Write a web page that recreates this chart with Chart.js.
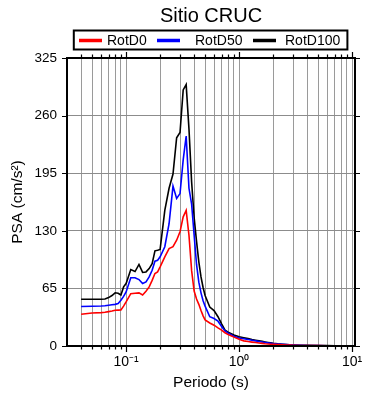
<!DOCTYPE html>
<html>
<head>
<meta charset="utf-8">
<script src="https://cdn.jsdelivr.net/npm/chart.js@4.4.1/dist/chart.umd.min.js"></script>
<style>
 html,body{margin:0;padding:0;background:#fff}
 #wrap{width:390px;height:400px}
</style>
</head>
<body>
<div id="wrap"><canvas id="psa" width="390" height="400"></canvas></div>
<script>
/* ---------------- data ---------------- */
const periods=[0.04,0.05,0.06,0.065,0.07,0.075,0.08,0.085,0.09,0.095,
 0.1,0.11,0.12,0.13,0.14,0.15,0.16,0.17,0.18,0.19,0.2,
 0.22,0.24,0.26,0.28,0.3,0.32,0.34,0.36,0.38,0.4,0.42,0.44,0.46,0.48,0.5,
 0.55,0.6,0.65,0.7,0.75,0.8,0.9,1.0,
 1.1,1.2,1.3,1.4,1.5,1.6,1.7,1.8,1.9,2.0,2.2,2.4,2.6,2.8,3.0,3.5,4.0,5.0,6.0,7.0,8.0,9.0,10.0];
const rotD0=[35.8,37.3,37.7,38,38.8,39.5,40.3,40.5,40.7,45,
 49.7,59,59.5,60,57.6,61.8,66.7,74,81.8,83.6,89.3,
 100.6,110,112,119.4,129,145.8,153,125,85,62,53,47,40,34,29.5,
 26,23.5,20.5,18,15,13,10,7.5,
 5.8,5,4.4,3.9,3.4,3,2.6,2.3,2.0,1.8,1.5,1.3,1.1,0.95,0.8,0.6,0.5,0.38,0.3,0.24,0.2,0.16,0.14];
const rotD50=[44.5,44.8,45.2,45.5,46,46.5,47,48,51.6,56,
 61,77,77,75,70.5,72.3,78,85.5,95.7,96.8,100.6,
 112,138,180.5,166.5,172,210,237,178,160,125,92,72,60,51,45,
 33,31,28,22,17,14.5,11,9,
 8.2,7.3,6.5,5.8,5.1,4.5,4,3.5,3.1,2.7,2.2,1.8,1.5,1.3,1.1,0.8,0.6,0.45,0.35,0.28,0.22,0.18,0.15];
const rotD100=[52.8,52.8,52.8,53,54.6,57,60,59.5,57.6,66.7,
 70.5,86.3,84,92,83,83.6,87.4,93,107.4,108,109,
 153,178,194,235,241,289,295,245,185,145,118,95,78,66,57,
 44,40,33,25,18,15.5,12.5,10.5,
 9.3,8.3,7.3,6.5,5.8,5.2,4.6,4,3.5,3,2.4,2,1.7,1.4,1.2,0.9,0.7,0.5,0.4,0.3,0.25,0.2,0.18];
const seriesNames=["RotD0","RotD50","RotD100"];
const seriesColors=["#ff0000","#0000ff","#000000"];
const yTicks=[0,65,130,195,260,325];
const xTicks=[0.04,0.05,0.06,0.07,0.08,0.09,0.1,0.2,0.3,0.4,0.5,0.6,0.7,0.8,0.9,1,2,3,4,5,6,7,8,9,10];
const xTickLabels={0.1:"10\u207B\u00B9",1:"10\u2070",10:"10\u00B9"};

const FONT="'Liberation Sans', Arial, Helvetica, sans-serif";

/* ---------------- frame, outer ticks, title and boxed legend ---------------- */
const decor={
 id:"decor",
 afterDraw(chart,args,o){
  const ctx=chart.ctx, a=chart.chartArea, xs=chart.scales.x, ys=chart.scales.y;
  ctx.save();
  ctx.strokeStyle="#000"; ctx.lineWidth=1.2;
  ctx.beginPath();
  xTicks.forEach(v=>{
   const px=Math.round(xs.getPixelForValue(v))+.5;
   const len=Math.abs(Math.log10(v)%1)<1e-9?6:3.5;
   ctx.moveTo(px,a.bottom); ctx.lineTo(px,a.bottom+len);
   ctx.moveTo(px,a.top); ctx.lineTo(px,a.top-len);
  });
  yTicks.forEach(v=>{
   const py=Math.round(ys.getPixelForValue(v))+.5;
   ctx.moveTo(a.left,py); ctx.lineTo(a.left-5,py);
   ctx.moveTo(a.right,py); ctx.lineTo(a.right+5,py);
  });
  ctx.stroke();
  ctx.lineWidth=2;
  ctx.strokeRect(a.left,a.top,a.right-a.left,a.bottom-a.top);

  // title
  ctx.fillStyle="#000"; ctx.textAlign="center"; ctx.textBaseline="alphabetic";
  ctx.font=`20px ${FONT}`;
  ctx.fillText(o.title,(a.left+a.right)/2,22);

  // legend
  const b=o.box;
  ctx.lineWidth=2; ctx.strokeRect(b[0],b[1],b[2]-b[0],b[3]-b[1]);
  ctx.font=`14px ${FONT}`; ctx.textAlign="left";
  chart.data.datasets.forEach((d,i)=>{
   ctx.strokeStyle=d.borderColor; ctx.lineWidth=3.5;
   ctx.beginPath(); ctx.moveTo(o.seg[i],40.5); ctx.lineTo(o.seg[i]+23,40.5); ctx.stroke();
   ctx.fillText(d.label,o.txt[i],45);
  });
  ctx.restore();
 }
};

new Chart(document.getElementById("psa"),{
 type:"line",
 data:{datasets:seriesNames.map((n,i)=>({
  label:n,
  data:periods.map((p,k)=>({x:p,y:[rotD0,rotD50,rotD100][i][k]})),
  borderColor:seriesColors[i],borderWidth:1.6,pointRadius:0,tension:0,fill:false
 }))},
 options:{
  responsive:false,animation:false,devicePixelRatio:1,
  layout:{padding:{top:58,right:35,left:0,bottom:0}},
  plugins:{legend:{display:false},title:{display:false},tooltip:{enabled:false},
   decor:{title:"Sitio CRUC",box:[73.8,30.5,347.4,49.5],seg:[79,157,253],txt:[107,195,285]}},
  scales:{
   x:{type:"logarithmic",min:0.03,max:10.6,
    afterBuildTicks:s=>{s.ticks=xTicks.map(v=>({value:v}));},
    afterFit:s=>{s.height=54;},
    grid:{color:"#9a9a9a",lineWidth:1,drawTicks:false},
    border:{display:false},
    ticks:{autoSkip:false,maxRotation:0,padding:8,color:"#000",font:{family:FONT,size:14},
     callback:v=>xTickLabels[v]||""},
    title:{display:true,text:"Periodo (s)",color:"#000",font:{family:FONT,size:15.5},padding:{top:0,bottom:8}}
   },
   y:{type:"linear",min:0,max:325,
    afterBuildTicks:s=>{s.ticks=yTicks.map(v=>({value:v}));},
    afterFit:s=>{s.width=67;},
    grid:{color:"#8c8c8c",lineWidth:1,drawTicks:false},
    border:{display:false},
    ticks:{padding:10,color:"#000",font:{family:FONT,size:13.5}},
    title:{display:true,text:"PSA (cm/s\u00B2)",color:"#000",font:{family:FONT,size:15.5},padding:{top:8,bottom:0}}
   }
  }
 },
 plugins:[decor]
});
</script>
</body>
</html>
